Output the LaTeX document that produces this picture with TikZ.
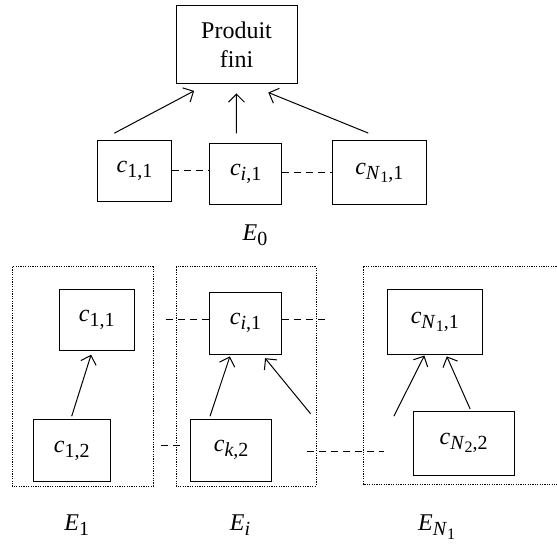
\documentclass[tikz,border=0pt]{standalone}
\usepackage{fontspec}
\setmainfont{Liberation Serif}
\usetikzlibrary{arrows.meta}
\newcommand{\idx}[2]{\textit{#1}\raisebox{-0.45ex}{\fontsize{10}{12}\selectfont #2}}
\newcommand{\idxx}[2]{\textit{#1}\raisebox{-0.4ex}{\fontsize{8}{10}\selectfont #2}}
\tikzset{
	bloc/.style={draw,line width=0.5pt,inner sep=0pt},
	fleche/.style={line width=0.5pt,-{Straight Barb[length=4pt,width=8pt]}},
	tirets/.style={line width=0.5pt,dash pattern=on 3.5pt off 2.5pt},
	groupe/.style={line width=0.5pt,dash pattern=on 0.6pt off 0.6pt},
}
\begin{document}
\begin{tikzpicture}[x=0.5pt,y=-0.5pt,font=\fontsize{12}{14.5}\selectfont]
		\clip (0,0) rectangle (557,545);
		% niveau E_0
		\node[bloc,minimum width=60.5pt,minimum height=39pt,align=center] (pf) at (236.5,45) {Produit\\fini};
		\node[bloc,minimum width=36.8pt,minimum height=30.7pt] (a11) at (134.5,171) {\idx{c}{1,1}};
		\node[bloc,minimum width=36pt,minimum height=30.7pt] (ai1) at (245.7,174.3) {\idx{c}{\textit{i},1}};
		\node[bloc,minimum width=47pt,minimum height=31.8pt] (aN1) at (379.3,172.8) {\idx{c}{\idxx{N}{1},1}};
		\node (e0) at (255,235) {\idx{E}{0}};
		\draw[fleche]([xshift=-10.1pt,yshift=3.3pt]a11.north) -- ([xshift=-21.2pt,yshift=-3.2pt]pf.south);
		\draw[fleche]([xshift=-4.7pt,yshift=4.8pt]ai1.north) -- ([yshift=-4.5pt]pf.south);
		\draw[fleche]([xshift=-5.5pt,yshift=3.7pt]aN1.north) -- ([xshift=15.9pt,yshift=-4pt]pf.south);
		\draw[tirets](a11.east) -- (a11.east -| ai1.west);
		\draw[tirets](aN1.west -| ai1.east) -- (aN1.west);
		% ensembles E_1 ... E_N1
		\draw[groupe](12,267) rectangle (153,486);
		\draw[groupe](176,267) rectangle (316,486);
		\draw[groupe](363,267) rectangle (580,484);
		\node[bloc,minimum width=37.3pt,minimum height=30.8pt] (b11) at (96.7,320) {\idx{c}{1,1}};
		\node[bloc,minimum width=38.3pt,minimum height=30.8pt] (b12) at (71.7,450.5) {\idx{c}{1,2}};
		\node[bloc,minimum width=36.2pt,minimum height=31pt] (bi1) at (245.5,323.3) {\idx{c}{\textit{i},1}};
		\node[bloc,minimum width=40.5pt,minimum height=31pt] (bk2) at (231.2,450.3) {\idx{c}{\textit{k},2}};
		\node[bloc,minimum width=47.2pt,minimum height=32.3pt] (bN1) at (434.8,322) {\idx{c}{\idxx{N}{1},1}};
		\node[bloc,minimum width=50.3pt,minimum height=32pt] (bN2) at (463.7,443) {\idx{c}{\idxx{N}{2},2}};
		\draw[fleche]([yshift=1.5pt]b12.north) -- ([xshift=-2.8pt,yshift=-1.7pt]b11.south);
		\draw[fleche]([xshift=-10.6pt,yshift=1.3pt]bk2.north) -- ([xshift=-7.8pt,yshift=-0.8pt]bi1.south);
		\draw[fleche]([xshift=19.2pt,yshift=2.5pt]bk2.north east) -- ([xshift=9.8pt,yshift=-1.7pt]bi1.south);
		\draw[fleche]([xshift=-9.5pt,yshift=-2.8pt]bN2.north west) -- ([xshift=-5.2pt,yshift=-0.4pt]bN1.south);
		\draw[fleche]([xshift=3.2pt,yshift=0.8pt]bN2.north) -- ([xshift=6pt,yshift=-0.8pt]bN1.south);
		\draw[tirets]([xshift=-21.6pt,yshift=2pt]bi1.west) -- ([yshift=2pt]bi1.west);
		\draw[tirets]([yshift=2pt]bi1.east) -- ([xshift=22pt,yshift=2pt]bi1.east);
		\draw[tirets]([xshift=-14.7pt,yshift=2.6pt]bk2.west) -- ([xshift=-5.3pt,yshift=2.6pt]bk2.west);
		\draw[tirets]([xshift=17.5pt,yshift=-0.7pt]bk2.east) -- ([xshift=55.8pt,yshift=-0.7pt]bk2.east);
		\node (e1) at (76.7,525) {\idx{E}{1}};
		\node (ei) at (240,525) {\idx{E}{\textit{i}}};
		\node (eN1) at (436.7,527) {\idx{E}{\idxx{N}{1}}};
	\end{tikzpicture}
\end{document}
